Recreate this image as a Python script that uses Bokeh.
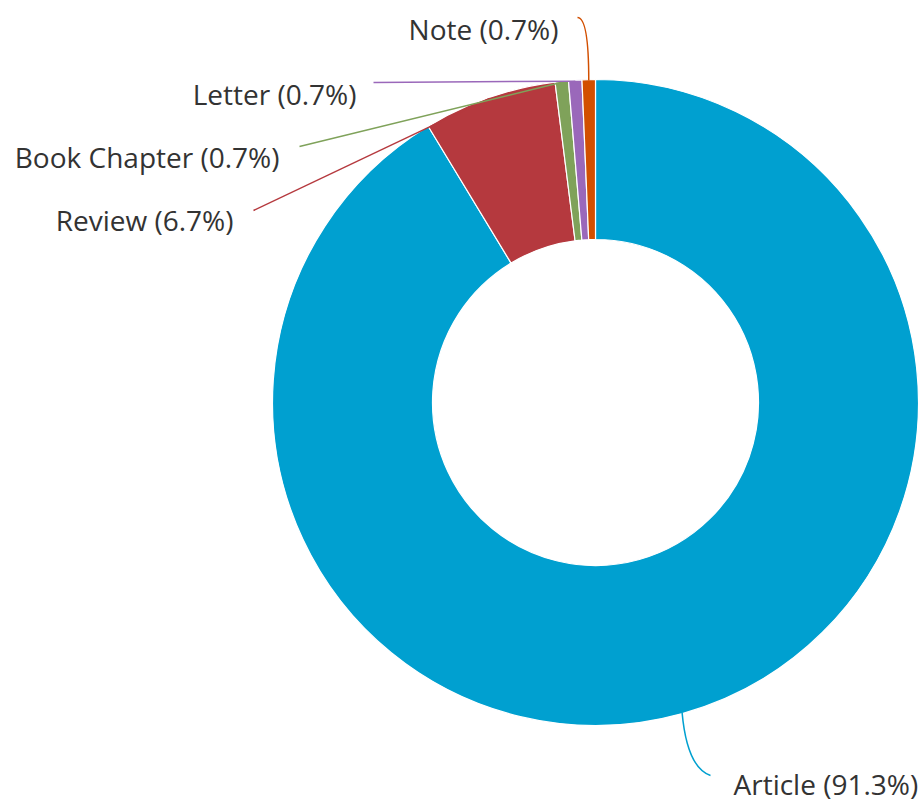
import math
from bokeh.plotting import figure
from bokeh.models import ColumnDataSource, Range1d
from bokeh.core.properties import value
from bokeh.embed import file_html
from bokeh.resources import INLINE

# ---- data ----
categories = ["Article", "Review", "Book Chapter", "Letter", "Note"]
counts = [137, 10, 1, 1, 1]
colors = ["#00A0D0", "#B5393E", "#7FA25A", "#9A68BA", "#D24F00"]

# ---- layout (image pixel space) ----
W, H = 921, 805
CX, CY = 595, 402
R_OUT, R_IN = 323, 163
FONT = "Open Sans"
FSIZE = "28px"
TXT = "#333333"

def Y(img_y):
    return H - img_y

total = sum(counts)
pcts = [c / total * 100 for c in counts]

# clockwise angles from 12 o'clock (degrees)
starts, ends = [], []
acc = 0.0
for c in counts:
    starts.append(acc / total * 360)
    acc += c
    ends.append(acc / total * 360)

def bokeh_ang(theta_cw):
    return math.radians(90 - theta_cw)

src = ColumnDataSource(dict(
    start=[bokeh_ang(e) for e in ends],
    end=[bokeh_ang(s) for s in starts],
    color=colors,
))

p = figure(width=W, height=H, output_backend="svg", toolbar_location=None,
           x_range=Range1d(0, W), y_range=Range1d(0, H),
           min_border=0)
p.axis.visible = False
p.grid.visible = False
p.outline_line_color = None
p.background_fill_color = "white"
p.border_fill_color = "white"

p.annular_wedge(x=CX, y=Y(CY), inner_radius=R_IN, outer_radius=R_OUT,
                start_angle="start", end_angle="end", direction="anticlock",
                fill_color="color", line_color="white", line_width=1.2,
                source=src)

def ring_point(theta_cw, r=R_OUT):
    t = math.radians(theta_cw)
    return CX + r * math.sin(t), CY - r * math.cos(t)

# label anchors (image pixels): (x, y, align)
label_pos = {
    "Article": (733, 783, "left"),
    "Review": (233, 219, "right"),
    "Book Chapter": (279, 156, "right"),
    "Letter": (356, 93, "right"),
    "Note": (558, 28, "right"),
}
# connector free ends (image pixels)
conn_end = {
    "Article": (710, 775),
    "Review": (253, 210),
    "Book Chapter": (299, 146),
    "Letter": (373, 82),
    "Note": (577, 17),
}

for cat, pct, col, s, e in zip(categories, pcts, colors, starts, ends):
    mid = (s + e) / 2
    rx, ry = ring_point(mid, R_OUT - 1)
    ex, ey = conn_end[cat]
    if cat == "Article":
        p.quadratic(x0=[rx], y0=[Y(ry)], x1=[ex], y1=[Y(ey)],
                    cx=[rx + 5], cy=[Y(ey - 8)], line_color=col, line_width=1.5)
    elif cat == "Note":
        p.quadratic(x0=[rx], y0=[Y(ry)], x1=[ex], y1=[Y(ey)],
                    cx=[rx], cy=[Y(ey)], line_color=col, line_width=1.5)
    else:
        p.line(x=[ex, rx], y=[Y(ey), Y(ry)], line_color=col, line_width=1.5)
    lx, ly, al = label_pos[cat]
    p.text(x=[lx], y=[Y(ly)], text=[f"{cat} ({pct:.1f}%)"], text_align=al,
           text_baseline="middle", text_font=value(FONT), text_font_size=FSIZE,
           text_color=TXT)

open("out.html", "w").write(file_html(p, INLINE))
